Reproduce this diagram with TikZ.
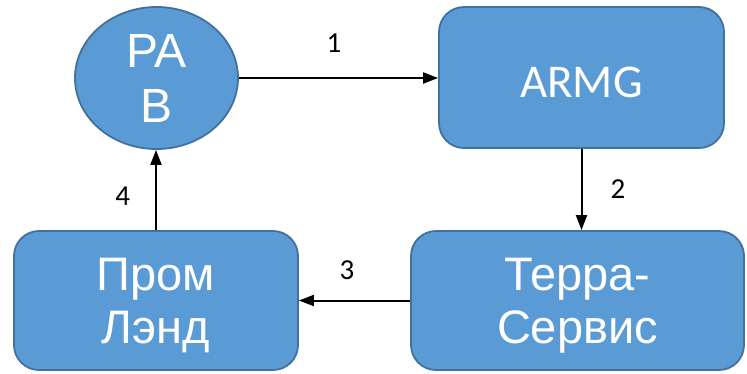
\documentclass[tikz,border=0pt]{standalone}
\usepackage{fontspec}
\setmainfont{Liberation Sans}
\newfontfamily\calibri{Carlito}
\usetikzlibrary{shapes.geometric,arrows.meta}
\definecolor{boxblue}{HTML}{5B9BD5}
\definecolor{boxedge}{HTML}{41719C}
\begin{document}
\begin{tikzpicture}[x=1pt,y=-1pt]
            \tikzstyle{blue node}=[draw=boxedge,fill=boxblue,line width=1.8pt,text=white,align=center,text depth=0pt,font=\fontsize{47}{53}\selectfont]
            \tikzstyle{box node}=[blue node,rectangle,rounded corners=25pt]
            \tikzstyle{step arrow}=[line width=2pt,-{Triangle[length=15pt,width=11pt]}]
            \tikzstyle{step label}=[inner sep=0pt,font=\calibri\fontsize{29}{29}\selectfont]

            \useasboundingbox (0,0) rectangle (747,373);

            \node(pab)[blue node,ellipse,minimum width=163,minimum height=142,inner sep=0pt,font=\fontsize{48}{55}\selectfont] at (156.5,78) {PA\\B};
            \node(armg)[box node,minimum width=285,minimum height=141,text height=39pt,font=\calibri\fontsize{47}{55}\selectfont] at (581.5,77.5) {ARMG};
            \node(terra)[box node,minimum width=333,minimum height=139] at (577.5,300.5) {Терра-\\Сервис};
            \node(prom)[box node,minimum width=284,minimum height=139] at (156,300.5) {Пром\\Лэнд};

            \draw[step arrow] (pab.east) -- node[step label,above=25pt,xshift=-4.5pt]{1} (pab.east -| armg.west);
            \draw[step arrow] (armg.south) -- node[step label,right=28pt]{2} (armg.south |- terra.north);
            \draw[step arrow] (terra.west) -- node[step label,above=20pt,xshift=-7.5pt]{3} (prom.east);
            \draw[step arrow] (prom.north) -- node[step label,left=25pt,yshift=-6pt]{4} (prom.north |- pab.south);
        \end{tikzpicture}
\end{document}
